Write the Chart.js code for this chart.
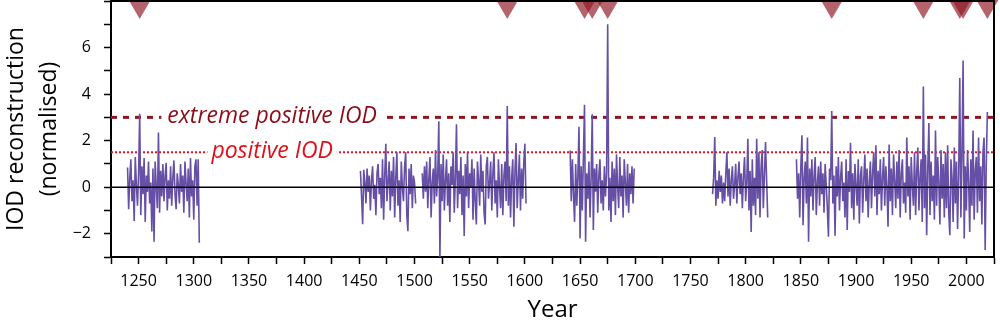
<!DOCTYPE html>
<html><head><meta charset="utf-8">
<script src="https://cdn.jsdelivr.net/npm/chart.js@4.4.1/dist/chart.umd.min.js"></script>
<style>html,body{margin:0;padding:0;background:#fff;}#wrap{width:1000px;height:329px;}</style>
</head><body><div id="wrap"><canvas id="c" width="1000" height="329"></canvas></div>
<script>
// ---- data ----
const segmentStartYears = [1240, 1451, 1507, 1641, 1770, 1846];
const seg1 = [0.85,-0.95,0.4,1.2,-0.6,0.3,-1.45,1.3,0.1,-0.8,
  0.6,3.16,-1.2,0.9,-0.3,1.25,-1.5,0.5,-0.2,1.1,
  -0.7,0.2,-1.9,0.8,-2.34,1.1,0.0,-0.9,2.35,-1.1,
  0.7,-0.4,1.0,-0.6,0.5,1.05,-1.0,0.3,-0.5,0.9,
  -0.8,0.4,1.15,-0.3,-0.95,0.6,0.1,-0.7,1.0,-0.2,
  0.5,-1.1,1.1,0.2,-0.6,0.8,-1.3,1.25,-0.4,0.3,
  -1.4,0.9,1.2,-0.8,1.2,-2.39];
const seg2 = [0.7,-0.4,-1.59,0.75,0.2,-0.7,0.8,-0.2,0.5,-1.0,
  0.3,0.9,-0.5,0.1,-1.2,0.6,1.0,-0.3,0.4,-0.9,
  1.2,-1.4,0.5,1.87,-0.6,0.2,1.1,-1.0,0.7,-0.4,
  1.3,-1.3,0.4,1.5,-0.8,0.3,-1.5,1.1,0.0,-0.6,
  0.9,1.5,-1.2,-1.89,0.8,-0.3,1.0,-0.9,0.5,0.2,
  -0.7];
const seg3 = [0.6,-0.5,0.9,-0.2,1.1,-0.9,0.4,1.3,-1.3,0.2,
  0.8,-0.7,1.6,-0.4,0.5,2.83,-3.05,1.0,-0.6,1.4,
  -1.0,0.3,1.2,-0.8,0.6,-1.5,0.9,0.1,1.5,-1.1,
  0.4,2.7,-0.9,0.7,-0.3,1.3,-1.2,0.5,-2.1,1.0,
  -0.4,1.5,-0.9,0.6,0.0,1.2,-1.4,0.8,-0.6,-1.6,
  1.1,0.3,-0.8,1.4,-0.2,0.7,-1.1,-1.6,0.9,1.3,
  -0.5,0.2,1.1,-1.0,0.6,1.5,-0.7,0.3,-1.3,1.2,
  0.0,-0.9,1.0,-1.2,0.5,1.1,-0.6,3.49,-0.8,0.9,
  -1.3,0.4,1.2,-1.7,0.7,1.9,-0.9,0.3,1.4,-1.0,
  0.8,-0.5,1.1,1.87,-0.7];
const seg4 = [1.58,-0.6,1.2,-0.3,-1.49,1.0,-0.8,0.5,2.6,-2.2,
  0.9,-1.0,1.3,3.54,-2.34,0.6,-0.5,1.1,-1.3,0.4,
  3.13,-1.84,0.8,-0.2,1.0,-1.1,0.5,1.2,-0.7,0.3,
  -1.0,0.9,-0.4,0.6,7.0,-1.0,0.4,-1.5,1.1,-0.6,
  0.8,-1.2,1.4,0.0,-0.9,1.3,-0.4,0.5,-1.3,1.2,
  0.2,-0.8,1.0,-1.1,0.6,-0.3,0.9,-0.7,0.8];
const seg5 = [-0.3,0.4,2.16,-0.8,0.3,-0.5,0.7,-0.2,0.5,-0.7,
  0.2,-0.6,0.6,1.5,-0.4,0.8,-0.8,0.3,0.9,-0.5,
  0.1,1.0,-0.7,0.4,1.1,-0.3,0.6,-0.9,0.5,1.3,
  -0.6,0.2,2.08,-1.0,0.7,-1.92,1.2,-0.8,0.4,-1.2,
  2.08,-0.5,1.5,-1.3,0.9,1.6,-0.9,0.5,1.94,0.3,-1.3];
const seg6 = [1.2,-0.5,0.6,-1.3,0.9,2.23,-1.63,0.4,1.1,-0.7,
  2.13,-2.34,0.8,-0.4,1.2,-1.0,0.5,1.3,-1.2,0.2,
  0.9,-0.8,1.1,-0.3,0.6,-1.1,1.0,0.1,-0.9,-2.13,
  0.8,0.3,3.27,-0.7,0.5,-2.09,0.9,-0.4,1.3,-1.0,
  0.4,1.1,-0.6,0.2,-1.3,1.2,-1.84,0.7,-0.2,1.91,
  -0.9,0.6,-1.4,1.0,0.1,-0.8,1.2,-1.56,0.5,0.9,
  -1.1,0.3,1.4,-0.6,0.8,-1.3,0.2,1.1,-0.9,0.6,
  1.5,-0.4,1.8,-1.2,0.7,-0.3,1.2,-1.0,0.4,1.3,
  -0.8,0.9,0.0,-1.7,1.83,-0.6,0.8,-1.2,1.4,0.3,
  -0.9,1.1,-0.5,1.6,-1.3,0.6,1.2,-0.7,0.2,-1.1,
  2.13,-0.4,0.9,-1.4,1.3,0.1,-0.8,1.5,-1.2,0.7,
  1.7,-1.0,0.4,1.2,-1.5,4.33,-0.9,1.4,-2.06,0.8,
  2.76,-1.2,1.1,-0.6,0.5,-1.4,2.44,-0.8,1.3,0.2,
  -1.6,1.6,-0.5,1.0,-1.3,1.5,-0.9,1.8,-1.1,-2.06,
  1.2,0.4,-1.5,1.7,-0.7,1.1,-1.8,0.6,4.69,-1.3,
  1.4,5.44,-2.2,0.9,-1.0,1.6,0.3,-1.92,1.2,-0.8,
  2.44,-1.4,0.7,1.3,-1.1,2.13,-0.6,0.9,-1.6,1.5,
  2.13,-2.7,1.0,3.23];
const segments = [seg1, seg2, seg3, seg4, seg5, seg6];
const extremeEventYears = [1251, 1584, 1654, 1661, 1675, 1878, 1961, 1994, 1997, 2019];
const thresholdExtreme = 3;
const thresholdPositive = 1.5;
const xMin = 1225, xMax = 2025, xStep = 25, xLabelStep = 50;
const yMin = -3, yMax = 8, yStep = 1, yLabelStep = 2;
const labelExtreme = 'extreme positive IOD';
const labelPositive = 'positive IOD';

// ---- build series ----
const series = [];
segments.forEach((vals, s) => {
  vals.forEach((v, i) => series.push({x: segmentStartYears[s] + i, y: v}));
  series.push({x: segmentStartYears[s] + vals.length, y: null});
});
const markerLevel = 7.77;
const markers = extremeEventYears.map(yr => ({x: yr, y: markerLevel}));

const FONT = '"Open Sans", "DejaVu Sans", sans-serif';
const annot = {
  id: 'annot',
  afterDatasetsDraw(chart) {
    const {ctx, chartArea: a, scales: {x, y}} = chart;
    ctx.save();
    ctx.font = 'italic 23px ' + FONT;
    ctx.textAlign = 'center';
    ctx.textBaseline = 'alphabetic';
    const items = [[labelExtreme, thresholdExtreme, '#8b0d18', 6], [labelPositive, thresholdPositive, '#e0101a', 4]];
    const cx = x.getPixelForValue(1371);
    for (const [t, v, col, pad] of items) {
      const py = y.getPixelForValue(v);
      const w = ctx.measureText(t).width;
      ctx.fillStyle = '#fff';
      ctx.fillRect(cx - w / 2 - pad, py - 4, w + 2 * pad, 8);
      ctx.fillStyle = col;
      ctx.fillText(t, cx, py + 6);
    }
    ctx.strokeStyle = '#000';
    ctx.lineWidth = 2;
    ctx.beginPath();
    ctx.moveTo(a.left, a.top); ctx.lineTo(a.right, a.top); ctx.lineTo(a.right, a.bottom);
    ctx.stroke();
    ctx.restore();
  }
};

new Chart(document.getElementById('c'), {
  type: 'line',
  data: {
    datasets: [
      {data: markers, showLine: false, pointStyle: 'triangle', rotation: 180, pointRadius: 12.7,
       pointBackgroundColor: 'rgba(145,25,40,0.68)', pointBorderWidth: 0, pointBorderColor: 'rgba(0,0,0,0)', clip: false},
      {data: [{x: xMin, y: 0}, {x: xMax, y: 0}], borderColor: '#000', borderWidth: 1.5, pointRadius: 0},
      {data: series, borderColor: '#6650a6', borderWidth: 1.6, pointRadius: 0, spanGaps: false, tension: 0},
      {data: [{x: xMin, y: thresholdExtreme}, {x: xMax, y: thresholdExtreme}], borderColor: '#8b1521', borderWidth: 3, borderDash: [6, 6], pointRadius: 0},
      {data: [{x: xMin, y: thresholdPositive}, {x: xMax, y: thresholdPositive}], borderColor: '#e8121b', borderWidth: 2, borderDash: [2, 2], pointRadius: 0}
    ]
  },
  options: {
    responsive: false, animation: false,
    layout: {autoPadding: false, padding: {top: 1, right: 6, left: 0, bottom: 0}},
    plugins: {legend: {display: false}, tooltip: {enabled: false}},
    scales: {
      x: {type: 'linear', min: xMin, max: xMax,
        afterFit: s => { s.height = 72; s.paddingLeft = 0; s.paddingRight = 0; },
        ticks: {stepSize: xStep, autoSkip: false, maxRotation: 0, minRotation: 0, padding: 8,
          color: '#000', font: {family: FONT, size: 16},
          callback: v => (v % xLabelStep === 0 ? String(v) : '')},
        grid: {display: true, drawOnChartArea: false, tickLength: 7, tickWidth: 1.5, tickColor: '#000'},
        border: {display: true, color: '#000', width: 2},
        title: {display: true, text: 'Year', color: '#000', font: {family: FONT, size: 24}, padding: {top: 0, bottom: 4}}
      },
      y: {type: 'linear', min: yMin, max: yMax,
        afterFit: s => { s.width = 111; s.paddingTop = 0; s.paddingBottom = 0; },
        ticks: {stepSize: yStep, autoSkip: false, padding: 13, color: '#000', font: {family: FONT, size: 16},
          callback: v => (v % yLabelStep === 0 && v < yMax ? (v < 0 ? '\u2212' + Math.abs(v) : String(v)) : '')},
        grid: {display: true, drawOnChartArea: false, tickLength: 7, tickWidth: 1.5, tickColor: '#000'},
        border: {display: true, color: '#000', width: 2},
        title: {display: true, text: ['IOD reconstruction', '(normalised)'], color: '#000',
          font: {family: FONT, size: 23, lineHeight: 1.43}, padding: {top: 0, bottom: 0}}
      }
    }
  },
  plugins: [annot]
});
</script></body></html>
